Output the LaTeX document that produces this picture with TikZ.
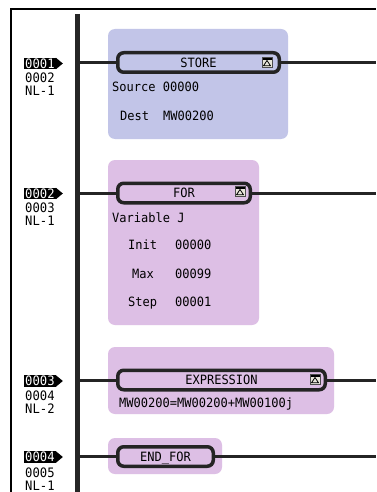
\documentclass[tikz,border=0pt]{standalone}
\usepackage{fontspec}
\newfontfamily\plcfont[FakeStretch=0.94]{DejaVu Sans Mono}
\usetikzlibrary{calc}
\definecolor{blockblue}{RGB}{194,197,232}
\definecolor{blockpink}{RGB}{221,191,229}
\definecolor{wirec}{RGB}{36,36,36}
\definecolor{iconbg}{RGB}{232,230,218}
\begin{document}
\begin{tikzpicture}[x=1pt,y=-1pt,
  every node/.style={font=\plcfont\fontsize{12.8}{14}\selectfont, inner sep=0pt, text height=9.3pt, text depth=0pt},
  bluebg/.style={fill=blockblue, rounded corners=7pt},
  pinkbg/.style={fill=blockpink, rounded corners=7pt},
  header/.style={draw=wirec, line width=3.5pt, rounded corners=6pt, minimum height=19.5pt},
  wire/.style={draw=wirec, line width=3pt},
  rung/.style={fill=black, text=white, inner xsep=1pt, inner ysep=1pt, anchor=west, font=\plcfont\fontsize{13}{14}\selectfont},
  lbl/.style={anchor=west, font=\plcfont\fontsize{13}{14}\selectfont},
  txt/.style={anchor=west},
  icon/.pic={
    \fill[iconbg] (-5,-5) rectangle (5,5);
    \fill[black] (-5,-5) rectangle (5,-2);
    \draw[black, line width=0.8pt, line join=round] (-3.5,3.8) -- (0,-1.5) -- (3.5,3.8) -- cycle;
    \draw[gray!60!black, line width=0.6pt] (-5,-5) rectangle (5,5);
  }
]
\useasboundingbox (0,0) rectangle (376,492);
\fill[white] (0,0) rectangle (376,492);
% frame
\draw[line width=2pt] (11,492) -- (11,9) -- (376,9);
% power rail
\draw[line width=5.5pt, color=black!85] (77.5,14) -- (77.5,492);

% ---------- block 1: STORE ----------
\fill[bluebg] (108,29) rectangle (288,139);
\node[header, minimum width=161.5pt] (h1) at (198.5,62.5) {STORE};
\pic at (267,62) {icon};
\coordinate (b1) at (80,62.5);
\coordinate (e1) at (376,62.5);
\draw[wire] (b1) -- (h1.west);
\draw[wire] (h1.east) -- (e1);
\node[rung] (r1) at (24,63.5) {0001};
\fill (r1.north east) -- ($(r1.east)+(7,0)$) -- (r1.south east) -- cycle;
\node[lbl] (r1b) at (25,77.5) {0002};
\node[lbl] (r1c) at (25,90.5) {NL-1};
\node[txt] (s1) at (112,87) {Source 00000};
\node[txt] (d1) at (120,116) {Dest};
\node[txt] (d1v) at (163,116) {MW00200};

% ---------- block 2: FOR ----------
\fill[pinkbg] (108,160) rectangle (259,325);
\node[header, minimum width=132.5pt] (h2) at (184,193) {FOR};
\pic at (240,191) {icon};
\coordinate (b2) at (80,193);
\coordinate (e2) at (376,193);
\draw[wire] (b2) -- (h2.west);
\draw[wire] (h2.east) -- (e2);
\node[rung] (r2) at (24,193.5) {0002};
\fill (r2.north east) -- ($(r2.east)+(7,0)$) -- (r2.south east) -- cycle;
\node[lbl] (r2b) at (25,207.5) {0003};
\node[lbl] (r2c) at (25,221) {NL-1};
\node[txt] (v2) at (112,218) {Variable J};
\node[txt] (i2) at (128,245) {Init};
\node[txt] (i2v) at (175,245) {00000};
\node[txt] (m2) at (132,274) {Max};
\node[txt] (m2v) at (175,274) {00099};
\node[txt] (st2) at (128,302) {Step};
\node[txt] (st2v) at (175,302) {00001};

% ---------- block 3: EXPRESSION ----------
\fill[pinkbg] (108,347) rectangle (334,414);
\node[header, minimum width=207.5pt] (h3) at (221.5,380) {EXPRESSION};
\pic at (315,379) {icon};
\coordinate (b3) at (80,380);
\coordinate (e3) at (376,380);
\draw[wire] (b3) -- (h3.west);
\draw[wire] (h3.east) -- (e3);
\node[rung] (r3) at (24,381) {0003};
\fill (r3.north east) -- ($(r3.east)+(7,0)$) -- (r3.south east) -- cycle;
\node[lbl] (r3b) at (25,396) {0004};
\node[lbl] (r3c) at (25,409) {NL-2};
\node[txt] (x3) at (119,403) {MW00200=MW00200+MW00100j};

% ---------- block 4: END_FOR ----------
\fill[pinkbg] (108,438) rectangle (222,474);
\node[header, minimum width=95.5pt] (h4) at (165.5,456.5) {END\_FOR};
\coordinate (b4) at (80,456.5);
\coordinate (e4) at (376,456.5);
\draw[wire] (b4) -- (h4.west);
\draw[wire] (h4.east) -- (e4);
\node[rung] (r4) at (24,457) {0004};
\fill (r4.north east) -- ($(r4.east)+(7,0)$) -- (r4.south east) -- cycle;
\node[lbl] (r4b) at (25,473) {0005};
\node[lbl] (r4c) at (25,486) {NL-1};
\end{tikzpicture}
\end{document}
